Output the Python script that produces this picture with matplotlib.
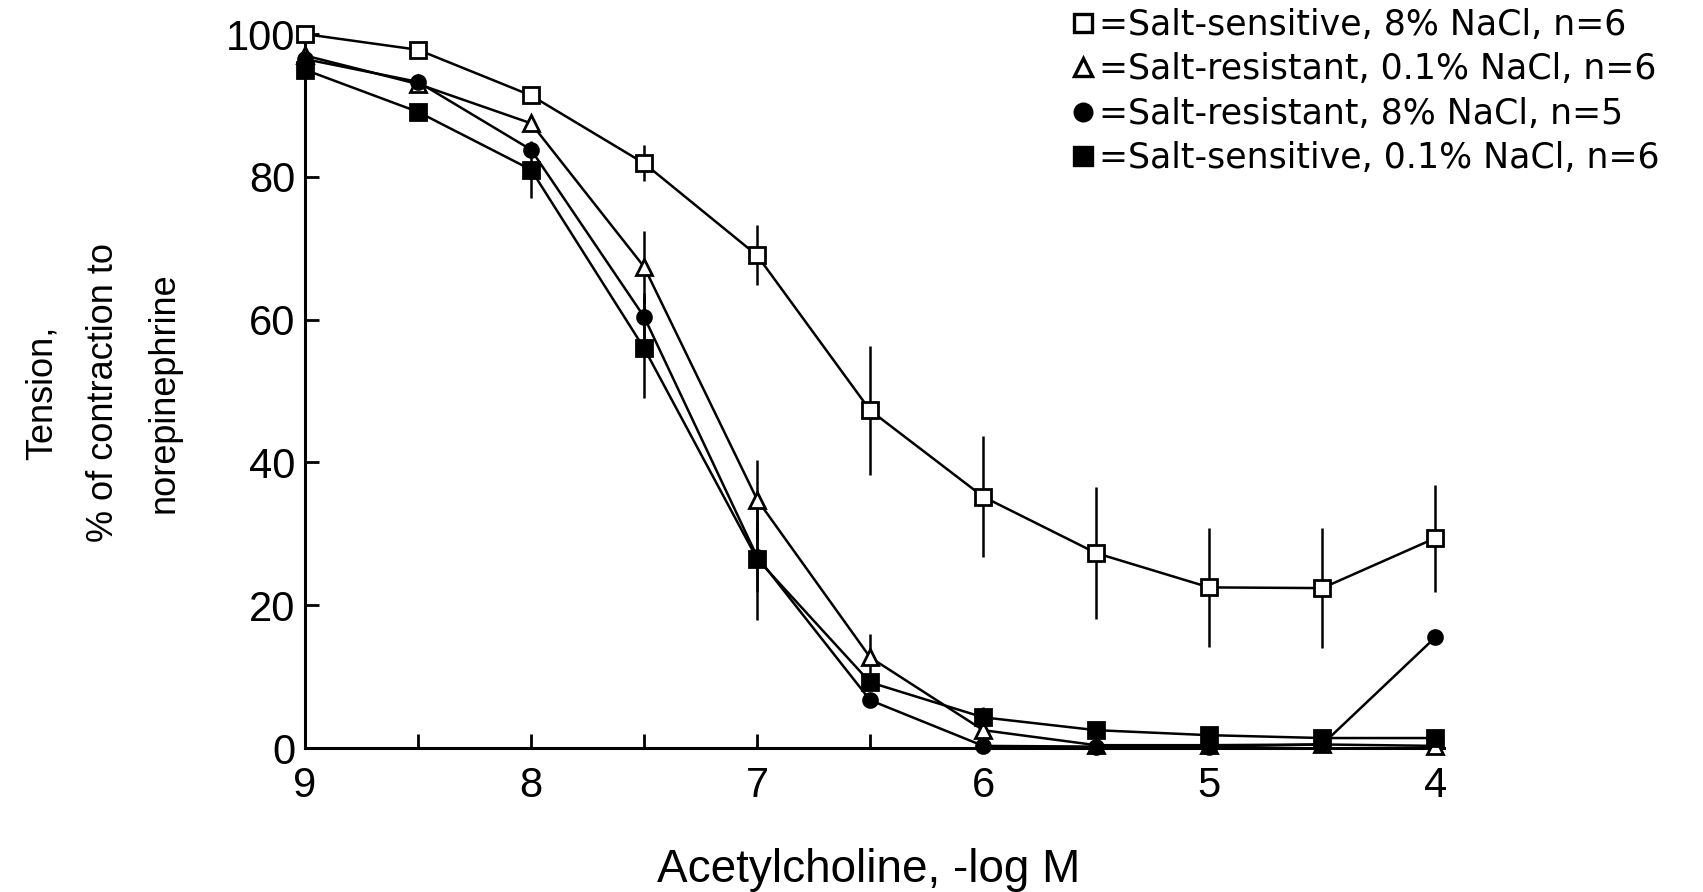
#acetylcholine relaxation curves, four groups of rats
import matplotlib
matplotlib.use("Agg")
import matplotlib.pyplot as plt
from matplotlib.lines import Line2D

plt.rcParams['font.family'] = ['Liberation Sans', 'DejaVu Sans']

# -log M concentrations
dose = [9, 8.5, 8, 7.5, 7, 6.5, 6, 5.5, 5, 4.5, 4]

# open squares: salt-sensitive, 8% NaCl
ss_high = [100, 97.8, 91.4, 81.9, 69.0, 47.3, 35.2, 27.3, 22.5, 22.4, 29.4]
ss_high_err = [0, 0, 0, 2.5, 4.2, 9.0, 8.5, 9.2, 8.3, 8.4, 7.5]

# open triangles: salt-resistant, 0.1% NaCl
sr_low = [97, 93, 87.5, 67.4, 34.8, 12.7, 2.5, 0.4, 0.4, 0.5, 0.3]
sr_low_err = [0, 0, 0, 5.0, 5.5, 3.3, 0, 0, 0, 0, 0]

# filled circles: salt-resistant, 8% NaCl
sr_high = [96.5, 93.3, 83.8, 60.4, 26.8, 6.7, 0.3, 0.2, 0.2, 0.5, 15.5]
sr_high_err = [0, 0, 0, 3.4, 5.0, 0, 0, 0, 0, 0, 0]

# filled squares: salt-sensitive, 0.1% NaCl
ss_low = [95, 89.1, 81, 56, 26.5, 9.2, 4.3, 2.5, 1.8, 1.4, 1.4]
ss_low_err = [0, 0, 4.0, 7.0, 8.5, 0, 1.5, 0, 0, 0, 0]

labels = ["=Salt-sensitive, 8% NaCl, n=6",
          "=Salt-resistant, 0.1% NaCl, n=6",
          "=Salt-resistant, 8% NaCl, n=5",
          "=Salt-sensitive, 0.1% NaCl, n=6"]

fig = plt.figure(figsize=(17.03, 8.92), dpi=100)
ax = fig.add_axes([0.1791, 0.1614, 0.669, 0.8004])

lw = 1.8
series = [
    (ss_high, ss_high_err, 's', 'white', 11),
    (sr_low, sr_low_err, '^', 'white', 11),
    (sr_high, sr_high_err, 'o', 'black', 10),
    (ss_low, ss_low_err, 's', 'black', 11),
]
for vals, err, mk, fc, ms in series:
    ax.errorbar(dose, vals, yerr=err, fmt='-', color='black', lw=lw,
                elinewidth=lw, capsize=0, marker=mk, markersize=ms,
                markerfacecolor=fc, markeredgecolor='black',
                markeredgewidth=2, clip_on=False, zorder=3)

ax.set_xlim(9, 3.96)
ax.set_ylim(0, 100)
ax.set_xticks([9, 8, 7, 6, 5, 4])
ax.set_xticklabels(['9', '8', '7', '6', '5', '4'])
ax.set_xticks([8.5, 7.5, 6.5, 5.5, 4.5], minor=True)
ax.set_yticks([0, 20, 40, 60, 80, 100])

for s in ['top', 'right']:
    ax.spines[s].set_visible(False)
ax.spines['left'].set_linewidth(2.2)
ax.spines['bottom'].set_linewidth(2.2)

ax.tick_params(axis='both', which='both', direction='in', length=10,
               width=2, labelsize=30)
ax.tick_params(axis='x', which='both', pad=13)
ax.tick_params(axis='y', pad=7)

# axis titles
fig.text(0.510, 0.025, "Acetylcholine, -log M", ha='center', va='center',
         fontsize=33)
fig.text(0.0605, 0.56, "Tension,\n% of contraction to\nnorepinephrine",
         rotation=90, ha='center', va='center', multialignment='center',
         fontsize=26, linespacing=1.95)

handles = [Line2D([], [], ls='none', marker=mk, markersize=ms * 1.2,
                  markerfacecolor=fc, markeredgecolor='black',
                  markeredgewidth=2.4)
           for vals, err, mk, fc, ms in series]
fig.legend(handles, labels, loc='upper left', bbox_to_anchor=(0.626, 0.997),
           frameon=False, handlelength=0.7, handletextpad=0.1,
           labelspacing=0.3, borderpad=0.15, borderaxespad=0,
           prop={'family': 'DejaVu Sans', 'size': 25})

fig.savefig("out.png", dpi=100, facecolor='white')
